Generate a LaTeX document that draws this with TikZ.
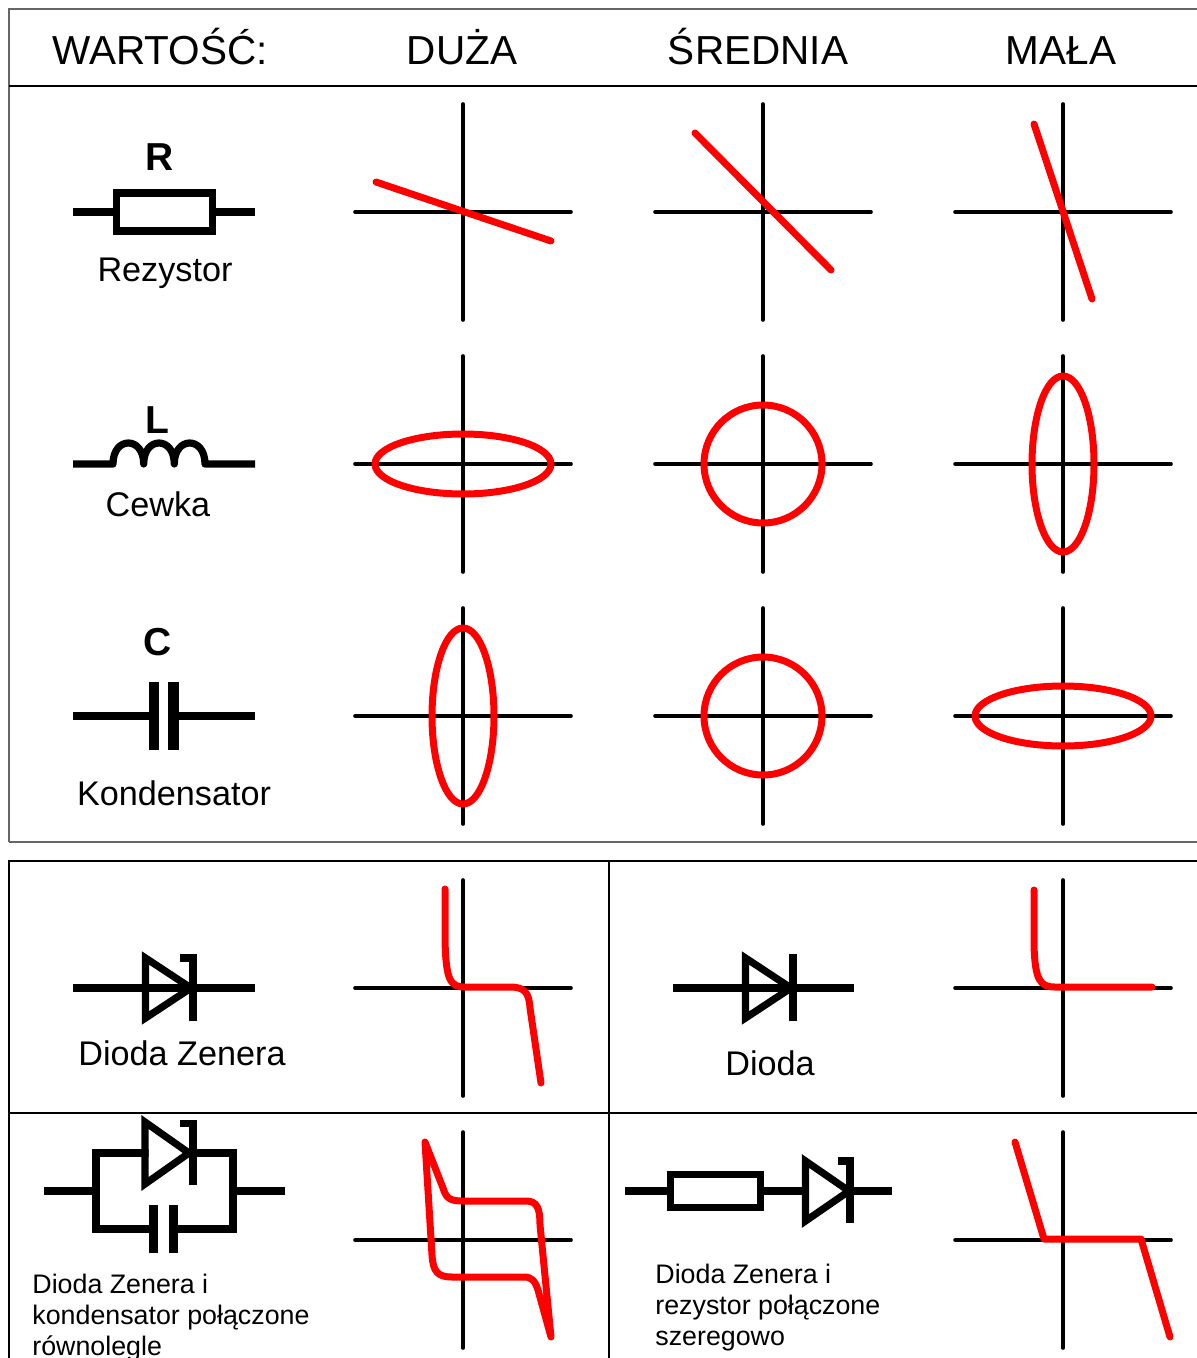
\documentclass[tikz,border=0pt]{standalone}
\usepackage{fontspec}
\setmainfont{Liberation Sans}
\begin{document}
\begin{tikzpicture}[x=0.5pt,y=-0.5pt,
  axis/.style={line width=1.8pt,line cap=round},
  curve/.style={line width=3.5pt,red,line cap=round,line join=round},
  sym/.style={line width=3.6pt,line join=miter},
  frameg/.style={line width=0.9pt,black!60},
  frameb/.style={line width=0.8pt,black},
  head/.style={font=\fontsize{20.25}{24}\selectfont,inner sep=0pt,anchor=base},
  lab/.style={font=\fontsize{17.1}{20}\selectfont,inner sep=0pt,anchor=base},
  big/.style={font=\bfseries\fontsize{19.5}{22}\selectfont,inner sep=0pt,anchor=base},
  small/.style={font=\fontsize{13.4}{15.5}\selectfont,inner sep=0pt,align=left,anchor=base west},
]
\newcommand\xyaxes[2]{%
  \draw[axis] ({#1-108},#2) -- ({#1+108},#2);
  \draw[axis] (#1,{#2-108}) -- (#1,{#2+108});}
\useasboundingbox (0,0) rectangle (1197,1358);
\clip (0,0) rectangle (1197,1358);
\fill[white] (0,0) rectangle (1197,1358);

% ---- frames
\draw[frameg] (9,842) -- (9,9) -- (1220,9);
\draw[frameg] (9,842) -- (1220,842);
\draw[frameb] (9,86) -- (1220,86);
\draw[frameb] (9,1380) -- (9,861) -- (1220,861);
\draw[frameb] (609,861) -- (609,1380);
\draw[frameb] (9,1113) -- (1220,1113);

% ---- header
\node[head] (hW) at (160,65) {WARTOŚĆ:};
\node[head] (hD) at (462,65) {DUŻA};
\node[head] (hS) at (758,65) {ŚREDNIA};
\node[head] (hM) at (1061,65) {MAŁA};

% ---- axes
\foreach \cx in {463,763,1063}{
  \foreach \cy in {212,464,716}{\xyaxes{\cx}{\cy}}}
\foreach \cx in {463,1063}{
  \foreach \cy in {988,1240}{\xyaxes{\cx}{\cy}}}

% ---- resistor
\node[big] (lR) at (160,171) {R};
\draw[sym] (73,212) -- (116.5,212);
\draw[sym] (116.5,193) rectangle (212.5,231);
\draw[sym] (212.5,212) -- (255,212);
\node[lab] (lRez) at (165,282) {Rezystor};

% ---- inductor
\node[big] (lL) at (157,433) {L};
\draw[sym,line join=round] (73,464) -- (113,464)
  .. controls (113,436) and (143.7,436) .. (143.7,464)
  .. controls (143.7,436) and (174.3,436) .. (174.3,464)
  .. controls (174.3,436) and (205,436) .. (205,464) -- (255,464);
\node[lab] (lCew) at (158,516) {Cewka};

% ---- capacitor
\node[big] (lC) at (158,655) {C};
\draw[sym] (73,716) -- (152,716);
\draw[sym] (175,716) -- (255,716);
\fill (149,682) rectangle (159,750);
\fill (168,682) rectangle (179,750);
\node[lab] (lKon) at (174,805) {Kondensator};

% ---- row 1 red lines
\draw[curve] (376,182) -- (551,241);
\draw[curve] (695,133) -- (831,270);
\draw[curve] (1034,124) -- (1092,299);

% ---- row 2 ellipses
\draw[curve] (463,464) ellipse [x radius=44pt, y radius=15pt];
\draw[curve] (763,464) circle [radius=29.5pt];
\draw[curve] (1063,464) ellipse [x radius=15.5pt, y radius=44pt];

% ---- row 3 ellipses
\draw[curve] (463,716) ellipse [x radius=15.5pt, y radius=44pt];
\draw[curve] (763,716) circle [radius=29.5pt];
\draw[curve] (1063,716) ellipse [x radius=44pt, y radius=15pt];

% ---- Zener diode
\draw[sym] (73,988) -- (255,988);
\draw[sym] (145.5,958) -- (191,988) -- (145.5,1018) -- cycle;
\draw[sym] (180,958) -- (193,958) -- (193,1021);
\node[lab] (lZen) at (182,1065) {Dioda Zenera};
\draw[curve] (445,889) -- (445,940)
  .. controls (446,980) and (450,987) .. (465,987) -- (510,987)
  .. controls (525,987) and (529,993) .. (530,1008) -- (541,1083);

% ---- diode
\draw[sym] (673,988) -- (854,988);
\draw[sym] (745.5,958) -- (791,988) -- (745.5,1018) -- cycle;
\draw[sym] (793,954) -- (793,1021);
\node[lab] (lDio) at (770,1075) {Dioda};
\draw[curve] (1034,890) -- (1034,945)
  .. controls (1035,980) and (1040,987) .. (1055,987) -- (1152,987);

% ---- Zener + capacitor parallel
\draw[sym] (44,1191) -- (96,1191);
\draw[sym] (150,1229) -- (96,1229) -- (96,1153) -- (233,1153) -- (233,1229) -- (177,1229);
\draw[sym] (233,1191) -- (285,1191);
\fill (149,1205) rectangle (158,1253);
\fill (169,1205) rectangle (178,1253);
\fill[white] (148.5,1124) -- (187,1153) -- (148.5,1182) -- cycle;
\draw[sym] (145,1122) -- (189,1153) -- (145,1184) -- cycle;
\draw[sym] (180,1123.5) -- (193,1123.5) -- (193,1185);
\node[small] (lPar) at (32,1355) {Dioda Zenera i\\kondensator połączone\\równolegle};
\draw[curve] (425,1142) -- (443,1188)
  .. controls (446,1198) and (450,1201) .. (462,1201) -- (526,1201)
  .. controls (537,1201) and (540,1208) .. (540,1225) -- (551,1337)
  -- (538,1290)
  .. controls (535,1281) and (532,1277) .. (524,1277) -- (452,1277)
  .. controls (438,1277) and (433,1272) .. (432,1255) -- cycle;

% ---- resistor + Zener series
\draw[sym] (625,1191) -- (670.5,1191);
\draw[sym] (670.5,1174.5) rectangle (760.5,1207.5);
\draw[sym] (760.5,1191) -- (806,1191);
\draw[sym] (805.5,1161) -- (849,1191) -- (805.5,1221) -- cycle;
\draw[sym] (838,1161) -- (850,1161) -- (850,1223);
\draw[sym] (850,1191) -- (892,1191);
\node[small] (lSer) at (655,1345) {Dioda Zenera i\\rezystor połączone\\szeregowo};
\draw[curve] (1015,1142) -- (1044,1239) -- (1141,1239) -- (1170,1337);
\end{tikzpicture}
\end{document}
